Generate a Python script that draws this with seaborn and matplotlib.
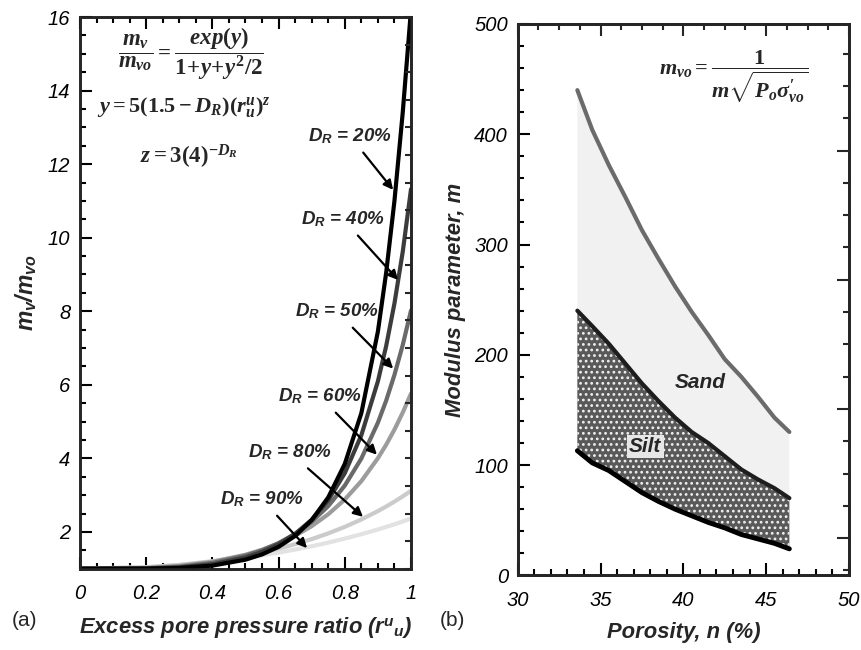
import pandas as pd
import matplotlib
matplotlib.use("Agg")
import matplotlib.pyplot as plt
from matplotlib.ticker import MultipleLocator
import seaborn as sns

# --- panel (a): m_v/m_vo vs r_u ---
ru = [0, 0.2, 0.3, 0.4, 0.5, 0.55, 0.6, 0.65, 0.7, 0.75, 0.8, 0.85, 0.9, 0.925, 0.95, 0.975, 1.0]
dr_labels = ["20%", "40%", "50%", "60%", "80%", "90%"]
mv_20 = [1.0, 1.002, 1.019, 1.083, 1.245, 1.388, 1.594, 1.89, 2.32, 2.94, 3.85, 5.23, 7.45, 9.05, 11.0, 13.4, 16.2]
mv_40 = [1.0, 1.005, 1.034, 1.119, 1.305, 1.457, 1.664, 1.946, 2.332, 2.862, 3.598, 4.629, 6.096, 7.056, 8.214, 9.614, 11.32]
mv_50 = [1.0, 1.011, 1.053, 1.156, 1.353, 1.501, 1.696, 1.948, 2.276, 2.702, 3.261, 3.995, 4.970, 5.571, 6.270, 7.080, 8.022]
mv_60 = [1.0, 1.019, 1.074, 1.186, 1.379, 1.515, 1.685, 1.896, 2.157, 2.480, 2.881, 3.381, 4.004, 4.371, 4.782, 5.244, 5.760]
mv_80 = [1.0, 1.037, 1.102, 1.204, 1.350, 1.442, 1.547, 1.667, 1.804, 1.960, 2.137, 2.338, 2.566, 2.691, 2.824, 2.966, 3.117]
mv_90 = [1.0, 1.042, 1.102, 1.187, 1.299, 1.365, 1.439, 1.520, 1.610, 1.709, 1.818, 1.937, 2.066, 2.136, 2.208, 2.284, 2.364]
curve_colors = ["#000000", "#3c3c3c", "#6a6a6a", "#9c9c9c", "#cbcbcb", "#e2e2e2"]

# label text position, arrow tip (r_u, m_v/m_vo)
label_pos = [(0.816, 12.76), (0.795, 10.50), (0.776, 7.99), (0.725, 5.68), (0.634, 4.16), (0.550, 2.88)]
arrow_tip = [(0.946, 11.30), (0.961, 8.85), (0.946, 6.44), (0.897, 4.10), (0.855, 2.41), (0.686, 1.56)]

# --- panel (b): modulus parameter vs porosity ---
porosity = [33.6, 34.5, 35.5, 36.5, 37.5, 38.5, 39.5, 40.5, 41.5, 42.5, 43.5, 44.5, 45.5, 46.4]
m_sand_upper = [440, 404, 372, 343, 313, 287, 262, 239, 218, 196, 180, 162, 143, 130]
m_silt_upper = [240, 226, 210, 192, 174, 158, 143, 130, 120, 108, 96, 87, 79, 70]
m_silt_lower = [113, 102, 95, 85, 75, 67, 60, 54, 48, 43, 37, 33, 29, 24]

sns.set_theme(style="ticks")
plt.rcParams["font.family"] = ["Liberation Sans", "DejaVu Sans"]
plt.rcParams["mathtext.fontset"] = "custom"
plt.rcParams["mathtext.rm"] = "Liberation Serif:bold"
plt.rcParams["mathtext.bf"] = "Liberation Serif:bold"
plt.rcParams["mathtext.it"] = "Liberation Serif:italic:bold"
plt.rcParams["mathtext.sf"] = "Liberation Sans:italic:bold"
plt.rcParams["hatch.linewidth"] = 1.2

fig = plt.figure(figsize=(8.62, 6.5), dpi=100)
ax1 = fig.add_axes([0.0928, 0.1251, 0.3840, 0.8487])
ax2 = fig.add_axes([0.6006, 0.1149, 0.3843, 0.8482])

spine_w = 1.8
tick_font = dict(fontsize=14.5, fontstyle="italic")
label_font = dict(fontsize=15.8, fontweight="bold", fontstyle="italic")


def style_axes(ax):
    for s in ax.spines.values():
        s.set_linewidth(spine_w)
        s.set_color("black")
    ax.tick_params(which="both", direction="in", width=1.5, colors="black")
    ax.tick_params(which="major", length=8.5)
    ax.tick_params(which="minor", length=4.5)


# ---------- (a) ----------
series = [mv_20, mv_40, mv_50, mv_60, mv_80, mv_90]
rows = []
for lab, vals in zip(dr_labels, series):
    for x, v in zip(ru, vals):
        rows.append({"ru": x, "mv": v, "DR": lab})
df_a = pd.DataFrame(rows)
pal = dict(zip(dr_labels, curve_colors))

sns.lineplot(data=df_a, x="ru", y="mv", hue="DR", hue_order=dr_labels[::-1],
             palette=pal, linewidth=3.0, legend=False, ax=ax1, sort=False)

ax1.set_xlim(0, 1)
ax1.set_ylim(1, 16)
ax1.xaxis.set_minor_locator(MultipleLocator(0.05))
ax1.yaxis.set_minor_locator(MultipleLocator(0.5))
ax1.set_xticks([0, 0.2, 0.4, 0.6, 0.8, 1.0])
ax1.set_xticklabels(["0", "0.2", "0.4", "0.6", "0.8", "1"], **tick_font)
ax1.set_yticks([2, 4, 6, 8, 10, 12, 14, 16])
ax1.set_yticklabels(["2", "4", "6", "8", "10", "12", "14", "16"], **tick_font)
style_axes(ax1)
ax1.tick_params(axis="x", which="both", top=True, pad=11)
ax1.tick_params(axis="y", which="both", right=False, pad=7)

tw1 = ax1.twinx()
tw1.set_ylim(0, 20)
tw1.yaxis.set_major_locator(MultipleLocator(1))
tw1.tick_params(axis="y", direction="in", length=4.5, width=1.5, labelright=False)
for s in tw1.spines.values():
    s.set_linewidth(spine_w)

ax1.set_xlabel(r"Excess pore pressure ratio ($\mathsf{r}^{\mathsf{u}}{}_{\mathsf{u}}$)",
               labelpad=9, **label_font)
ax1.set_ylabel(r"$\mathsf{m}_{\mathsf{v}}\mathsf{/m}_{\mathsf{vo}}$", fontsize=16.5, labelpad=6)

ax1.text(0.335, 15.0, r"$\dfrac{m_v}{m_{vo}}=\dfrac{exp(y)}{1\!+\!y\!+\!y^2/2}$",
         fontsize=16.5, ha="center", va="center")
ax1.text(0.315, 13.55, r"$y=5(1.5-D_R)(r_u^u)^z$", fontsize=16, ha="center", va="center")
ax1.text(0.33, 12.2, r"$z=3(4)^{-D_R}$", fontsize=16.5, ha="center", va="center")

for lab, pos, tip in zip(dr_labels, label_pos, arrow_tip):
    ax1.annotate(r"$\mathsf{D}_{\mathsf{R}}$ = " + lab, xy=tip, xytext=pos,
                 fontsize=13.5, fontweight="bold", fontstyle="italic", ha="center", va="center",
                 arrowprops=dict(arrowstyle="-|>", color="black", lw=1.6, mutation_scale=14,
                                 shrinkA=3, shrinkB=0))

# ---------- (b) ----------
ax2.fill_between(porosity, m_silt_upper, m_sand_upper, facecolor="#f1f1f1", edgecolor="none", lw=0)
ax2.fill_between(porosity, m_silt_lower, m_silt_upper, facecolor="#595959", edgecolor="#f0f0f0",
                 hatch="...", lw=0)
df_b = pd.DataFrame({"n": porosity, "sand": m_sand_upper, "silt_up": m_silt_upper,
                     "silt_low": m_silt_lower})
sns.lineplot(data=df_b, x="n", y="sand", color="#6b6b6b", linewidth=3.0, ax=ax2)
sns.lineplot(data=df_b, x="n", y="silt_up", color="#1e1e1e", linewidth=3.0, ax=ax2)
sns.lineplot(data=df_b, x="n", y="silt_low", color="black", linewidth=3.5, ax=ax2)

ax2.set_xlim(30, 50)
ax2.set_ylim(0, 500)
ax2.set_xticks([30, 35, 40, 45, 50])
ax2.set_xticklabels(["30", "35", "40", "45", "50"], **tick_font)
ax2.xaxis.set_minor_locator(MultipleLocator(1))
ax2.set_yticks([0, 100, 200, 300, 400, 500])
ax2.set_yticklabels(["0", "100", "200", "300", "400", "500"], **tick_font)
ax2.yaxis.set_minor_locator(MultipleLocator(20))
style_axes(ax2)
ax2.tick_params(axis="x", which="both", top=False, pad=11)
ax2.tick_params(axis="y", which="both", right=False, pad=7)

tw2 = ax2.twinx()
tw2.set_ylim(-1.15, 15.92)
tw2.yaxis.set_major_locator(MultipleLocator(4))
tw2.yaxis.set_minor_locator(MultipleLocator(1))
tw2.tick_params(axis="y", which="both", direction="in", width=1.5, labelright=False)
tw2.tick_params(axis="y", which="major", length=8.5)
tw2.tick_params(axis="y", which="minor", length=4.5)
tw3 = ax2.twiny()
tw3.set_xlim(30, 50)
tw3.xaxis.set_major_locator(MultipleLocator(5))
tw3.xaxis.set_minor_locator(MultipleLocator(1.25))
tw3.tick_params(axis="x", which="both", direction="in", width=1.5, labeltop=False)
tw3.tick_params(axis="x", which="major", length=8.5)
tw3.tick_params(axis="x", which="minor", length=4.5)
for t in (tw2, tw3):
    for s in t.spines.values():
        s.set_linewidth(spine_w)

ax2.set_xlabel("Porosity, n (%)", labelpad=9, **label_font)
ax2.set_ylabel("Modulus parameter, m", labelpad=6, **label_font)

ax2.text(41.0, 175, "Sand", fontsize=15, fontweight="bold", fontstyle="italic", ha="center", va="center")
ax2.text(37.7, 117, "Silt", fontsize=15, fontweight="bold", fontstyle="italic", ha="center", va="center",
         bbox=dict(facecolor="#e6e6e6", edgecolor="none", pad=1.5))
ax2.text(43.05, 452, r"$m_{vo}=\dfrac{1}{m\sqrt{P_o\sigma^{\prime}_{vo}}}$", fontsize=16,
         ha="center", va="center")

fig.text(0.014, 0.045, "(a)", fontsize=15, ha="left", va="center")
fig.text(0.510, 0.045, "(b)", fontsize=15, ha="left", va="center")

fig.savefig("out.png", dpi=100)
